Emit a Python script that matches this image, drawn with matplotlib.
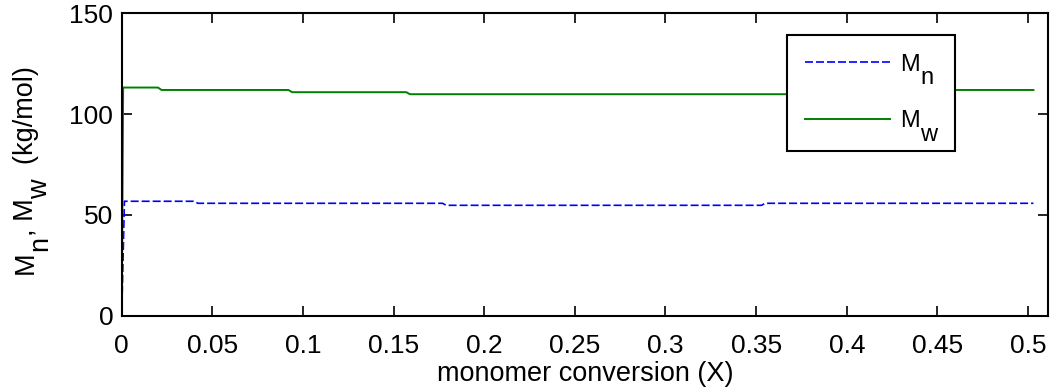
import matplotlib
matplotlib.use("Agg")
import matplotlib.pyplot as plt

plt.rcParams['font.family'] = ['Liberation Sans', 'DejaVu Sans']

# Number-average molecular weight vs. conversion
conv_n = [0, 0.0015, 0.040, 0.042, 0.177, 0.179, 0.353, 0.355, 0.503]
mn = [0, 56.8, 56.8, 55.8, 55.8, 54.8, 54.8, 55.8, 55.8]

# Weight-average molecular weight vs. conversion
conv_w = [0, 0.0008, 0.020, 0.022, 0.092, 0.094, 0.157, 0.159, 0.400, 0.402, 0.503]
mw = [0, 113.1, 113.1, 111.9, 111.9, 110.8, 110.8, 109.8, 109.8, 111.9, 111.9]

xticks = [0, 0.05, 0.1, 0.15, 0.2, 0.25, 0.3, 0.35, 0.4, 0.45, 0.5]
xtick_labels = ['0', '0.05', '0.1', '0.15', '0.2', '0.25', '0.3', '0.35', '0.4', '0.45', '0.5']
yticks = [0, 50, 100, 150]

tick_fs = 19
label_fs = 19.5
legend_fs = 17

fig = plt.figure(figsize=(10.51, 3.92), dpi=100)
ax = fig.add_axes([0.1158, 0.1939, 0.8813, 0.7729])

ax.plot(conv_n, mn, color=(0, 0, 1), lw=1.2, dashes=(4.8, 1.8), label='M')
ax.plot(conv_w, mw, color=(0, 0.5, 0), lw=1.4, label='M')

ax.set_xlim(0, 0.511)
ax.set_ylim(0, 150)
ax.set_xticks(xticks)
ax.set_xticklabels(xtick_labels)
ax.set_yticks(yticks)
ax.tick_params(direction='in', length=7, width=1.2, labelsize=tick_fs,
               top=True, right=True)
ax.tick_params(axis='x', pad=13)
ax.tick_params(axis='y', pad=6)
for s in ax.spines.values():
    s.set_linewidth(1.5)

ax.set_xlabel('monomer conversion (X)', fontsize=label_fs, labelpad=2)


def sub_label(pieces, x, y, fs, shift):
    """Write a vertical label from (text, is_subscript) pieces, reading upward."""
    base = fig.text(x, y, pieces[0][0], fontsize=fs, rotation=90,
                    ha='right', va='bottom', transform=None)
    prev = base
    for txt, is_sub in pieces[1:]:
        prev = ax.annotate(txt, xy=(1, 1), xycoords=(base, prev),
                           xytext=(shift if is_sub else 0, 0),
                           textcoords='offset points', fontsize=fs,
                           rotation=90, ha='right', va='bottom',
                           annotation_clip=False)
    return base


sub_label([('M', False), ('n', True), (', M', False), ('w', True),
           ('  (kg/mol)', False)], 39, 118, label_fs, 10)

leg = ax.legend(loc='upper left', bbox_to_anchor=(0.718, 0.927, 0.1816, 0.0),
                mode='expand', borderaxespad=0, fontsize=legend_fs,
                handlelength=3.6, handletextpad=0.42, borderpad=0.78,
                labelspacing=1.48, fancybox=False, framealpha=1)
leg.get_frame().set_edgecolor('black')
leg.get_frame().set_linewidth(1.5)

# subscripts for the legend entries
for t, s in zip(leg.get_texts(), ['n', 'w']):
    ax.annotate(s, xy=(1, 0), xycoords=t, xytext=(0.5, -9.6),
                textcoords='offset points', fontsize=legend_fs,
                ha='left', va='bottom', annotation_clip=False, zorder=10)

fig.savefig('out.png', dpi=100)
